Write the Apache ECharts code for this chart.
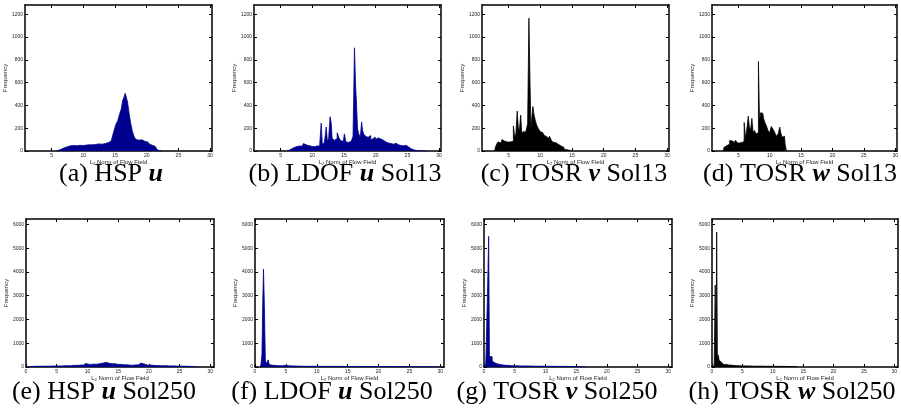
<!DOCTYPE html>
<html>
<head>
<meta charset="utf-8">
<script src="https://cdn.jsdelivr.net/npm/echarts@6/dist/echarts.min.js"></script>
<style>html,body{margin:0;padding:0;background:#fff}#c{width:901px;height:412px}</style>
</head>
<body>
<div id="c"></div>
<script>
// ---- tick labels ----
const xTicksTop = [5, 10, 15, 20, 25, 30];
const xTicksBottom = [0, 5, 10, 15, 20, 25, 30];
const yTicksTop = [0, 200, 400, 600, 800, 1000, 1200];
const yTicksBottom = [0, 1000, 2000, 3000, 4000, 5000, 6000];

// ---- captions ----
const captions = [
  ['(a) HSP ', 'u', ''],
  ['(b) LDOF ', 'u', ' Sol13'],
  ['(c) TOSR ', 'v', ' Sol13'],
  ['(d) TOSR ', 'w', ' Sol13'],
  ['(e) HSP ', 'u', ' Sol250'],
  ['(f) LDOF ', 'u', ' Sol250'],
  ['(g) TOSR ', 'v', ' Sol250'],
  ['(h) TOSR ', 'w', ' Sol250']
];

// ---- histogram data (bin centre, frequency) ----
const aX = [5.8,6.2,6.6,7.0,7.5,8.0,8.5,9.0,9.5,10.0,10.5,11.0,11.5,12.0,12.5,13.0,13.5,14.0,14.4,14.7,15.0,15.3,15.6,15.9,16.1,16.3,16.5,16.7,16.9,17.1,17.3,17.6,17.9,18.2,18.5,18.8,19.1,19.4,19.7,20.0,20.3,20.6,20.9,21.2,21.5,21.8,22.1,22.4];
const aY = [0,8,18,28,38,46,48,46,50,48,52,55,54,58,62,60,66,74,88,120,180,235,268,330,370,440,470,505,470,420,340,250,170,120,100,95,98,90,85,80,72,60,50,40,25,10,3,0];

const bX = [6.0,6.4,6.8,7.2,7.6,8.0,8.4,8.8,9.0,9.4,9.8,10.2,10.6,11.0,11.3,11.5,11.65,11.9,12.1,12.3,12.45,12.7,12.9,13.05,13.2,13.5,13.8,14.05,14.3,14.6,14.9,15.2,15.4,15.7,16.0,16.3,16.55,16.75,16.9,17.05,17.2,17.45,17.7,17.85,18.0,18.2,18.5,18.8,19.1,19.35,19.6,19.8,20.1,20.4,20.7,21.0,21.4,21.8,22.2,22.6,23.0,23.4,23.8,24.2,24.6,25.0,25.4,25.8,26.4,27.0,28.0];
const bY = [0,8,20,32,40,44,42,65,50,45,40,38,45,42,50,245,60,75,90,210,85,110,300,250,110,95,110,160,120,90,85,150,80,75,85,100,130,905,580,410,200,150,120,255,180,150,130,120,135,95,110,120,100,115,105,95,80,70,65,60,68,55,48,45,50,35,20,8,3,1,0];

const cX = [2.8,3.0,3.2,3.5,3.8,4.1,4.4,4.7,5.0,5.3,5.6,5.9,6.05,6.25,6.45,6.6,6.8,7.0,7.15,7.4,7.7,7.9,8.1,8.3,8.45,8.6,8.75,8.9,9.1,9.3,9.5,9.8,10.1,10.4,10.7,11.0,11.3,11.6,11.85,12.2,12.6,13.0,13.5,14.0,14.5,15.0];
const cY = [0,30,60,80,70,100,85,78,75,80,85,220,120,150,350,200,180,315,150,170,165,175,240,1165,590,190,300,390,320,270,230,200,170,160,140,125,110,130,95,75,60,45,30,12,3,0];

const dX = [2.6,2.8,3.1,3.4,3.8,4.1,4.4,4.7,5.0,5.4,5.8,6.05,6.25,6.5,6.65,6.85,7.05,7.25,7.45,7.7,7.9,8.1,8.3,8.45,8.65,8.9,9.1,9.35,9.6,9.85,10.1,10.4,10.65,10.9,11.2,11.5,11.7,11.9,12.1,12.35,12.55,12.7,12.8];
const dY = [0,30,45,60,90,80,75,95,70,75,85,250,110,200,305,210,180,285,160,180,150,160,785,260,335,330,290,250,220,180,160,215,190,165,130,150,210,150,120,130,60,10,0];

const eX = [0.2,0.5,1.5,3.0,5.0,6.5,8.0,9.0,9.7,10.3,11.0,12.0,12.6,13.0,13.5,14.0,15.0,16.0,17.0,18.0,18.7,19.2,19.8,21.0,22.0,23.5,25.0,26.5,27.5,28.0];
const eY = [0,20,30,35,45,55,70,80,150,110,120,140,165,195,160,135,110,90,75,90,165,130,80,60,55,45,35,25,10,0];

const fX = [0.9,1.05,1.2,1.3,1.45,1.6,1.75,1.9,2.05,2.2,2.35,2.6,2.9,3.2,3.5,4.0,4.5,5.0,5.5,6.0,7.0,8.0,10.0,12.0,15.0,18.0,21.0,24.0,27.0,29.0,30.0];
const fY = [0,150,500,2650,4120,2500,250,150,120,300,120,80,70,110,60,55,50,70,50,45,35,30,28,25,22,20,18,15,10,5,0];

const gX = [0.25,0.4,0.55,0.7,0.82,0.95,1.1,1.25,1.4,1.6,1.9,2.3,2.8,3.5,4.5,6.0,8.0,10.0,12.0,14.0,15.5,16.5];
const gY = [0,420,380,3780,5500,450,470,430,250,180,140,110,85,70,55,45,35,30,25,20,12,0];

const hX = [0.3,0.45,0.6,0.72,0.82,0.95,1.1,1.25,1.45,1.7,2.0,2.5,3.0,4.0,5.0,7.0,9.0,11.0,13.0,14.0];
const hY = [0,250,3450,280,5680,300,500,280,200,150,110,85,70,55,45,35,30,25,20,0];

// ---- layout / style ----
const NAVY = '#00008F', BLACK = '#000000';
const panels = [
  {x: aX, y: aY, color: NAVY,  row: 0, left: 25,  top: 5,   width: 187, height: 146, capX: 111},
  {x: bX, y: bY, color: NAVY,  row: 0, left: 254, top: 5,   width: 187, height: 146, capX: 345},
  {x: cX, y: cY, color: BLACK, row: 0, left: 482, top: 5,   width: 187, height: 146, capX: 574},
  {x: dX, y: dY, color: BLACK, row: 0, left: 712, top: 5,   width: 186, height: 146, capX: 800},
  {x: eX, y: eY, color: NAVY,  row: 1, left: 26,  top: 219, width: 188, height: 148, capX: 104},
  {x: fX, y: fY, color: NAVY,  row: 1, left: 255, top: 219, width: 189, height: 148, capX: 332},
  {x: gX, y: gY, color: NAVY,  row: 1, left: 484, top: 219, width: 188, height: 148, capX: 557},
  {x: hX, y: hY, color: BLACK, row: 1, left: 712, top: 219, width: 186, height: 148, capX: 792}
];
const rowCfg = [
  {xmin: 0.8, xmax: 30.3, ymax: 1280, xt: xTicksTop, yt: yTicksTop, capY: 174},
  {xmin: 0,   xmax: 30.6, ymax: 6230, xt: xTicksBottom, yt: yTicksBottom, capY: 392}
];

const grid = [], xAxis = [], yAxis = [], series = [], graphic = [];
const lineSt = {color: '#000', width: 1.5};
const tickSt = {color: '#000', width: 1};
const lblFont = {fontSize: 5, fontFamily: 'Liberation Sans', color: '#222'};
const plain = v => String(v);

panels.forEach((p, i) => {
  const r = rowCfg[p.row];
  grid.push({left: p.left, top: p.top, width: p.width, height: p.height, containLabel: false});
  // bottom x
  xAxis.push({
    type: 'value', gridIndex: i, position: 'bottom', min: r.xmin, max: r.xmax,
    axisLine: {show: true, onZero: false, lineStyle: lineSt},
    axisTick: {show: true, inside: true, length: 3, customValues: r.xt, lineStyle: tickSt},
    axisLabel: Object.assign({show: true, customValues: r.xt, margin: 2, formatter: plain}, lblFont),
    splitLine: {show: false},
    name: 'L{s|2} Norm of Flow Field', nameLocation: 'middle', nameGap: 7,
    nameTextStyle: {fontSize: 6, fontFamily: 'Liberation Sans', color: '#222',
      rich: {s: {fontSize: 4, fontFamily: 'Liberation Sans', color: '#222', padding: [4, 0, 0, 0]}}}
  });
  // top x (frame)
  xAxis.push({
    type: 'value', gridIndex: i, position: 'top', min: r.xmin, max: r.xmax,
    axisLine: {show: true, onZero: false, lineStyle: lineSt},
    axisTick: {show: true, inside: true, length: 3, customValues: r.xt, lineStyle: tickSt},
    axisLabel: {show: false}, splitLine: {show: false}
  });
  // left y
  yAxis.push({
    type: 'value', gridIndex: i, position: 'left', min: 0, max: r.ymax,
    axisLine: {show: true, onZero: false, lineStyle: lineSt},
    axisTick: {show: true, inside: true, length: 3, customValues: r.yt, lineStyle: tickSt},
    axisLabel: Object.assign({show: true, customValues: r.yt, margin: 2, formatter: plain}, lblFont),
    splitLine: {show: false},
    name: 'Frequency', nameLocation: 'middle', nameRotate: 90, nameGap: 8,
    nameTextStyle: {fontSize: 6, fontFamily: 'Liberation Sans', color: '#222'}
  });
  // right y (frame)
  yAxis.push({
    type: 'value', gridIndex: i, position: 'right', min: 0, max: r.ymax,
    axisLine: {show: true, onZero: false, lineStyle: lineSt},
    axisTick: {show: true, inside: true, length: 3, customValues: r.yt, lineStyle: tickSt},
    axisLabel: {show: false}, splitLine: {show: false}
  });
  series.push({
    type: 'line', xAxisIndex: 2 * i, yAxisIndex: 2 * i,
    data: p.x.map((v, k) => [v, p.y[k]]),
    step: 'middle', symbol: 'none', silent: true,
    lineStyle: {color: p.color, width: 0.8},
    areaStyle: {color: p.color, opacity: 1},
    itemStyle: {color: p.color}
  });
  const c = captions[i];
  graphic.push({
    type: 'text', x: p.capX, y: r.capY,
    style: {
      text: c[0] + '{b|' + c[1] + '}' + c[2],
      fill: '#000', fontSize: 26, fontFamily: 'Liberation Serif',
      align: 'center', verticalAlign: 'middle',
      rich: {b: {fontSize: 26, fontFamily: 'Liberation Serif', fontWeight: 'bold', fontStyle: 'italic', fill: '#000'}}
    }
  });
});

const chart = echarts.init(document.getElementById('c'), null, {renderer: 'canvas'});
chart.setOption({animation: false, backgroundColor: '#fff', grid, xAxis, yAxis, series, graphic});
</script>
</body>
</html>
